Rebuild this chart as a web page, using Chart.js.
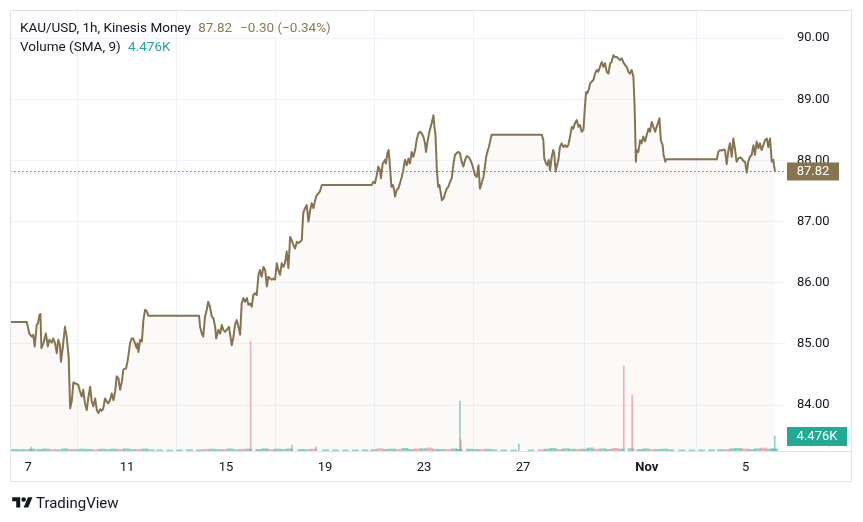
<!DOCTYPE html>
<html>
<head>
<meta charset="utf-8">
<script src="https://cdn.jsdelivr.net/npm/chart.js@4.4.1/dist/chart.umd.min.js"></script>
<style>
  body { margin: 0; background: #fff; }
  #wrap { position: relative; width: 863px; height: 522px; }
  #legend { position: absolute; left: 20px; top: 18px; font: 13.5px Roboto, sans-serif; color: #131722; line-height: 19px; }
  #brand { position: absolute; left: 12px; top: 494px; font: 15px Roboto, sans-serif; color: #131722; display: flex; align-items: center; }
  #brand svg { margin-right: 3px; }
</style>
</head>
<body>
<div id="wrap">
  <canvas id="chart" width="863" height="522"></canvas>
  <div id="legend">
    <div>KAU/USD, 1h, Kinesis Money <span style="color:#8b7a55;margin-left:4px">87.82</span><span style="color:#8b7a55;margin-left:8px">−0.30 (−0.34%)</span></div>
    <div>Volume (SMA, 9) <span style="color:#22ab94;margin-left:4px">4.476K</span></div>
  </div>
  <div id="brand">
    <svg width="21" height="16" viewBox="0 0 36 28"><path d="M14 22H7V11H0V4h14v18zM28 22h-8l7.5-18h8L28 22z" fill="#131722"/><circle cx="20" cy="8" r="4" fill="#131722"/></svg>
    <span>TradingView</span>
  </div>
</div>
<script>
// time axis in days of October (Nov n = 31 + n), hourly price of KAU/USD
const tickDays = [7, 11, 15, 19, 23, 27, 32, 36];
const tickLabels = ['7', '11', '15', '19', '23', '27', 'Nov', '5'];
const priceTicks = [84, 85, 86, 87, 88, 89, 90];

const priceDays = [
  6.27, 6.95, 7.05, 7.15, 7.21, 7.27, 7.35, 7.40, 7.46, 7.50, 7.54, 7.62, 7.72, 7.80, 7.86, 7.96,
  8.02, 8.09, 8.16, 8.22, 8.29, 8.33, 8.40, 8.49, 8.56, 8.64, 8.70, 8.77, 8.83, 8.94, 9.03, 9.10,
  9.17, 9.23, 9.30, 9.37, 9.44, 9.51, 9.57, 9.64, 9.71, 9.78, 9.84, 9.91, 9.98, 10.04, 10.11, 10.18,
  10.24, 10.31, 10.38, 10.45, 10.52, 10.58, 10.65, 10.72, 10.79, 10.85, 10.96, 11.03, 11.12, 11.19,
  11.25, 11.32, 11.39, 11.42, 11.46, 11.53, 11.60, 11.66, 11.73, 11.80, 11.86, 13.91,
  13.95, 14.02, 14.08, 14.15, 14.22, 14.28, 14.35, 14.42, 14.49, 14.56, 14.60, 14.69, 14.76, 14.83,
  14.89, 14.96, 15.03, 15.12, 15.16, 15.23, 15.30, 15.36, 15.43, 15.50, 15.57, 15.63, 15.70, 15.77,
  15.84, 15.90, 15.97, 16.04, 16.10, 16.17, 16.24, 16.31, 16.37, 16.44, 16.51, 16.58, 16.65, 16.71,
  16.78, 16.85, 16.91, 16.98, 17.05, 17.11, 17.18, 17.25, 17.32, 17.38, 17.45, 17.52, 17.59, 17.65,
  17.72, 17.79, 17.86, 17.92, 17.99, 18.06, 18.12, 18.19, 18.26, 18.33, 18.40, 18.46, 18.53, 18.60,
  18.66, 18.73, 18.80, 18.87, 20.89,
  20.95, 21.02, 21.09, 21.15, 21.22, 21.26, 21.33, 21.38, 21.42, 21.46, 21.52, 21.57, 21.63, 21.68,
  21.74, 21.79, 21.83, 21.90, 21.96, 22.03, 22.10, 22.16, 22.23, 22.30, 22.37, 22.43, 22.50, 22.57,
  22.64, 22.70, 22.77, 22.84, 22.91, 22.97, 23.04, 23.08, 23.13, 23.20, 23.27, 23.34, 23.38, 23.42,
  23.46, 23.52, 23.57, 23.62, 23.68, 23.72, 23.79, 23.85, 23.92, 23.98, 24.05, 24.12, 24.19, 24.25,
  24.32, 24.39, 24.45, 24.52, 24.59, 24.66, 24.72, 24.79, 24.86, 24.93, 24.99, 25.06, 25.13, 25.20,
  25.26, 25.33, 25.40, 25.46, 25.51, 25.56, 25.62, 25.67, 25.73, 27.76,
  27.82, 27.86, 27.93, 27.98, 28.04, 28.09, 28.16, 28.22, 28.26, 28.32, 28.36, 28.43, 28.49, 28.56,
  28.63, 28.70, 28.77, 28.83, 28.90, 28.97, 29.03, 29.10, 29.17, 29.24, 29.30, 29.37, 29.44, 29.51,
  29.55, 29.60, 29.65, 29.71, 29.78, 29.84, 29.91, 29.98, 30.04, 30.11, 30.18, 30.25, 30.31, 30.38,
  30.45, 30.52, 30.58, 30.65, 30.72, 30.79, 30.85, 30.92, 30.99, 31.05, 31.12, 31.19, 31.26, 31.32,
  31.39, 31.46, 31.51, 31.56, 31.59, 31.66, 31.73, 31.79, 31.86, 31.93, 32.00, 32.07, 32.13, 32.20,
  32.27, 32.34, 32.40, 32.47, 32.51, 32.57, 32.64, 32.68, 32.75, 32.79, 34.83,
  34.89, 34.96, 35.03, 35.09, 35.16, 35.23, 35.30, 35.36, 35.43, 35.50, 35.57, 35.63, 35.70, 35.77,
  35.84, 35.90, 35.97, 36.04, 36.10, 36.17, 36.24, 36.31, 36.37, 36.44, 36.51, 36.57, 36.64, 36.71,
  36.78, 36.85, 36.91, 36.98, 37.05, 37.11, 37.18
];
const priceValues = [
  85.36, 85.36, 85.17, 85.12, 85.15, 84.96, 85.31, 85.34, 85.47, 85.49, 84.93, 85.01, 85.17, 84.96, 85.07, 85.02,
  85.09, 85.01, 84.85, 85.07, 84.98, 84.71, 84.93, 85.28, 85.12, 84.79, 83.95, 84.08, 84.37, 84.35, 84.33, 84.22,
  84.14, 84.25, 84.03, 83.92, 84.14, 84.30, 84.06, 83.98, 84.11, 83.92, 83.87, 83.93, 83.91, 83.95, 84.11, 84.06,
  84.03, 84.08, 84.19, 84.08, 84.22, 84.47, 84.44, 84.25, 84.38, 84.58, 84.60, 84.74, 85.01, 85.09,
  85.09, 85.01, 84.93, 85.01, 84.87, 85.07, 85.04, 85.39, 85.56, 85.53, 85.46, 85.46,
  85.28, 85.17, 85.12, 85.45, 85.56, 85.69, 85.61, 85.45, 85.42, 85.28, 85.09, 85.23, 85.17, 85.31,
  85.23, 85.20, 85.23, 85.28, 85.17, 84.98, 85.12, 85.31, 85.39, 85.28, 85.15, 85.66, 85.75, 85.69,
  85.75, 85.64, 85.66, 85.61, 85.80, 85.83, 85.80, 86.13, 86.21, 86.10, 86.26, 86.21, 85.94, 86.10,
  86.07, 86.05, 86.07, 86.05, 86.32, 86.21, 86.13, 86.32, 86.26, 86.32, 86.51, 86.24, 86.75, 86.70,
  86.62, 86.56, 86.67, 86.65, 86.67, 86.70, 87.14, 87.22, 87.27, 87.00, 87.19, 87.30, 87.22, 87.35,
  87.43, 87.46, 87.50, 87.60, 87.60,
  87.65, 87.63, 87.76, 87.90, 87.84, 87.71, 87.95, 87.98, 88.01, 87.95, 88.12, 88.17, 87.87, 87.57,
  87.60, 87.52, 87.41, 87.52, 87.54, 87.63, 87.73, 87.84, 88.01, 87.92, 88.03, 87.95, 88.14, 88.06,
  88.17, 88.33, 88.44, 88.47, 88.44, 88.39, 88.28, 88.14, 88.28, 88.44, 88.55, 88.66, 88.74, 88.55,
  88.44, 87.84, 87.57, 87.60, 87.46, 87.35, 87.38, 87.46, 87.54, 87.57, 87.65, 87.71, 87.95, 88.09,
  88.12, 88.14, 88.12, 87.98, 87.90, 88.01, 88.07, 88.06, 88.02, 87.95, 87.87, 87.76, 87.73, 87.92,
  87.54, 87.63, 87.73, 87.90, 88.06, 88.14, 88.22, 88.31, 88.42, 88.42,
  88.33, 88.03, 87.95, 87.92, 88.01, 87.84, 88.06, 88.17, 88.12, 87.82, 87.90, 88.01, 88.22, 88.28,
  88.22, 88.25, 88.22, 88.25, 88.39, 88.55, 88.52, 88.61, 88.66, 88.55, 88.58, 88.47, 88.50, 88.93,
  89.12, 89.10, 89.15, 89.26, 89.29, 89.31, 89.42, 89.48, 89.45, 89.53, 89.61, 89.53, 89.59, 89.45,
  89.42, 89.59, 89.61, 89.72, 89.69, 89.69, 89.67, 89.64, 89.67, 89.61, 89.56, 89.53, 89.45, 89.42,
  89.48, 89.37, 88.88, 87.98, 88.17, 88.14, 88.33, 88.28, 88.39, 88.31, 88.42, 88.52, 88.47, 88.63,
  88.55, 88.47, 88.55, 88.63, 88.69, 88.33, 88.25, 88.09, 87.98, 88.02, 88.02,
  88.14, 88.17, 88.16, 88.18, 88.17, 87.94, 88.17, 88.28, 88.06, 88.36, 88.17, 87.98, 88.03, 88.05,
  88.03, 87.99, 87.98, 87.80, 87.98, 88.06, 88.09, 88.25, 88.09, 88.31, 88.20, 88.28, 88.17, 88.25,
  88.33, 88.36, 88.22, 88.36, 87.98, 88.01, 87.82
];

// volume bars (1 = up/teal, 0 = down/pink)
const volDays = [
  6.30, 6.55, 6.80, 7.05, 7.15, 7.35, 7.60, 7.85, 8.10, 8.35, 8.60, 8.85, 9.10, 9.35, 9.60, 9.85,
  10.10, 10.35, 10.60, 10.85, 11.10, 11.35, 11.60, 11.85, 12.20, 12.60, 13.00, 13.40, 13.80, 14.05,
  14.30, 14.55, 14.80, 15.05, 15.30, 15.55, 15.80, 16.01, 16.20, 16.45, 16.70, 16.95, 17.20, 17.45,
  17.68, 17.90, 18.15, 18.40, 18.66, 18.90, 19.30, 19.70, 20.10, 20.50, 20.85, 21.10, 21.35, 21.60,
  21.85, 22.10, 22.35, 22.60, 22.85, 23.10, 23.35, 23.60, 23.85, 24.10, 24.30, 24.47, 24.51, 24.70,
  24.95, 25.20, 25.45, 25.70, 26.10, 26.50, 26.85, 27.20, 27.60, 27.85, 28.10, 28.35, 28.60, 28.85,
  29.10, 29.35, 29.60, 29.85, 30.10, 30.35, 30.60, 30.85, 31.09, 31.25, 31.43, 31.60, 31.85, 32.10,
  32.35, 32.60, 32.85, 33.30, 33.70, 34.10, 34.50, 34.85, 35.10, 35.35, 35.60, 35.85, 36.10, 36.35,
  36.60, 36.85, 37.05, 37.19
];
const volValues = [
  500, 450, 400, 600, 1200, 500, 650, 450, 400, 700, 500, 450, 600, 500, 400, 550,
  450, 600, 500, 700, 450, 500, 650, 400, 350, 300, 350, 400, 350, 500,
  600, 450, 500, 650, 400, 550, 600, 32800, 500, 700, 450, 600, 500, 650,
  1800, 500, 450, 600, 1200, 400, 350, 300, 350, 400, 450, 700, 500, 600,
  450, 800, 500, 650, 700, 900, 550, 500, 450, 650, 500, 14900, 3300, 600,
  500, 450, 550, 400, 350, 300, 2100, 350, 400, 600, 800, 500, 700, 600,
  500, 600, 900, 550, 700, 500, 800, 600, 25400, 700, 16700, 500, 700, 450,
  500, 600, 400, 350, 300, 350, 400, 450, 450, 700, 800, 600, 500, 700,
  900, 600, 650, 4476
];
const volUp = [
  1, 1, 1, 1, 0, 1, 1, 0, 1, 1, 0, 1, 1, 1, 0, 1,
  1, 1, 0, 1, 1, 0, 1, 1, 1, 1, 1, 1, 1, 0,
  1, 1, 0, 1, 1, 0, 1, 0, 1, 1, 0, 1, 1, 1,
  0, 1, 1, 0, 1, 1, 1, 1, 1, 1, 1, 0, 1, 1,
  0, 1, 1, 0, 1, 0, 1, 1, 0, 1, 1, 1, 0, 1,
  1, 0, 1, 1, 1, 1, 1, 1, 0, 1, 1, 0, 1, 1,
  0, 1, 1, 0, 1, 1, 0, 1, 0, 1, 0, 1, 1, 0,
  1, 1, 1, 1, 1, 1, 1, 1, 0, 1, 1, 0, 1, 1,
  0, 1, 1, 1
];

const lastPrice = priceValues[priceValues.length - 1];
const lastVol = volValues[volValues.length - 1];
const lineColor = '#86744f';
const fontFamily = 'Roboto, sans-serif';
const upColor = 'rgba(34,171,148,0.5)';
const downColor = 'rgba(247,82,95,0.45)';

// small bars are drawn wide so they read as the thin strip along the bottom, spikes stay 1px
const isSpike = v => v > 1000;
const volBars = volDays.map((d, i) => ({ x: d, y: volValues[i], up: volUp[i] }));
const smallBars = volBars.filter(b => !isSpike(b.y));
const spikeBars = volBars.filter(b => isSpike(b.y));

const overlay = {
  id: 'overlay',
  afterDraw(chart) {
    const ctx = chart.ctx;
    const a = chart.chartArea;
    const yP = chart.scales.y.getPixelForValue(lastPrice);
    const yV = chart.scales.yv.getPixelForValue(lastVol);
    ctx.save();
    // dotted last-price line
    ctx.strokeStyle = lineColor;
    ctx.lineWidth = 1;
    ctx.setLineDash([1.5, 2.5]);
    ctx.beginPath();
    ctx.moveTo(a.left, Math.round(yP) + 0.5);
    ctx.lineTo(a.right, Math.round(yP) + 0.5);
    ctx.stroke();
    ctx.setLineDash([]);
    // frame and pane separator
    ctx.strokeStyle = '#e0e3eb';
    ctx.strokeRect(10.5, 10.5, 841, 471);
    ctx.beginPath();
    ctx.moveTo(10, a.bottom + 0.5);
    ctx.lineTo(852, a.bottom + 0.5);
    ctx.stroke();
    // price label
    ctx.font = '13px ' + fontFamily;
    ctx.textAlign = 'center';
    ctx.textBaseline = 'middle';
    ctx.fillStyle = lineColor;
    ctx.fillRect(a.right + 1, yP - 9, 52, 18);
    ctx.fillStyle = '#ffffff';
    ctx.fillText(lastPrice.toFixed(2), a.right + 27, yP + 0.5);
    // volume label
    ctx.fillStyle = '#22ab94';
    ctx.fillRect(a.right + 1, yV - 9, 60, 19);
    ctx.fillStyle = '#ffffff';
    ctx.fillText((lastVol / 1000).toFixed(3) + 'K', a.right + 31, yV + 0.5);
    ctx.restore();
  }
};

new Chart(document.getElementById('chart'), {
  data: {
    datasets: [
      {
        type: 'bar',
        data: smallBars,
        backgroundColor: smallBars.map(b => b.up ? upColor : downColor),
        barThickness: 6,
        yAxisID: 'yv',
        order: 3
      },
      {
        type: 'bar',
        data: spikeBars,
        backgroundColor: spikeBars.map(b => b.up ? upColor : downColor),
        barThickness: 1,
        yAxisID: 'yv',
        order: 2
      },
      {
        type: 'line',
        data: priceDays.map((d, i) => ({ x: d, y: priceValues[i] })),
        borderColor: lineColor,
        borderWidth: 2,
        borderJoinStyle: 'round',
        pointRadius: 0,
        tension: 0,
        fill: 'start',
        backgroundColor: 'rgba(134,116,79,0.035)',
        yAxisID: 'y',
        order: 1
      }
    ]
  },
  options: {
    responsive: false,
    animation: false,
    layout: { padding: { left: 10, top: 10, right: 11, bottom: 41 } },
    plugins: { legend: { display: false }, tooltip: { enabled: false } },
    scales: {
      x: {
        type: 'linear',
        offset: false,
        min: 6.27,
        max: 37.626,
        afterBuildTicks: s => { s.ticks = tickDays.map(v => ({ value: v })); },
        afterFit: s => { s.height = 30; s.paddingLeft = 0; s.paddingRight = 0; },
        ticks: {
          color: '#131722',
          padding: 9,
          maxRotation: 0,
          autoSkip: false,
          font: c => ({ family: fontFamily, size: 13, weight: c.tick && c.tick.value === 32 ? 'bold' : 'normal' }),
          callback: v => tickLabels[tickDays.indexOf(v)]
        },
        grid: { color: '#f0f3fa', drawTicks: false },
        border: { display: false }
      },
      y: {
        position: 'right',
        min: 83.25,
        max: 90.46,
        afterBuildTicks: s => { s.ticks = priceTicks.map(v => ({ value: v })); },
        afterFit: s => { s.width = 66; s.paddingTop = 0; s.paddingBottom = 0; },
        ticks: {
          color: '#131722',
          padding: 11,
          font: { family: fontFamily, size: 13 },
          callback: v => v.toFixed(2)
        },
        grid: { color: '#f0f3fa', drawTicks: false },
        border: { display: false }
      },
      yv: {
        display: false,
        min: 0,
        max: 131600
      }
    }
  },
  plugins: [overlay]
});
</script>
</body>
</html>
